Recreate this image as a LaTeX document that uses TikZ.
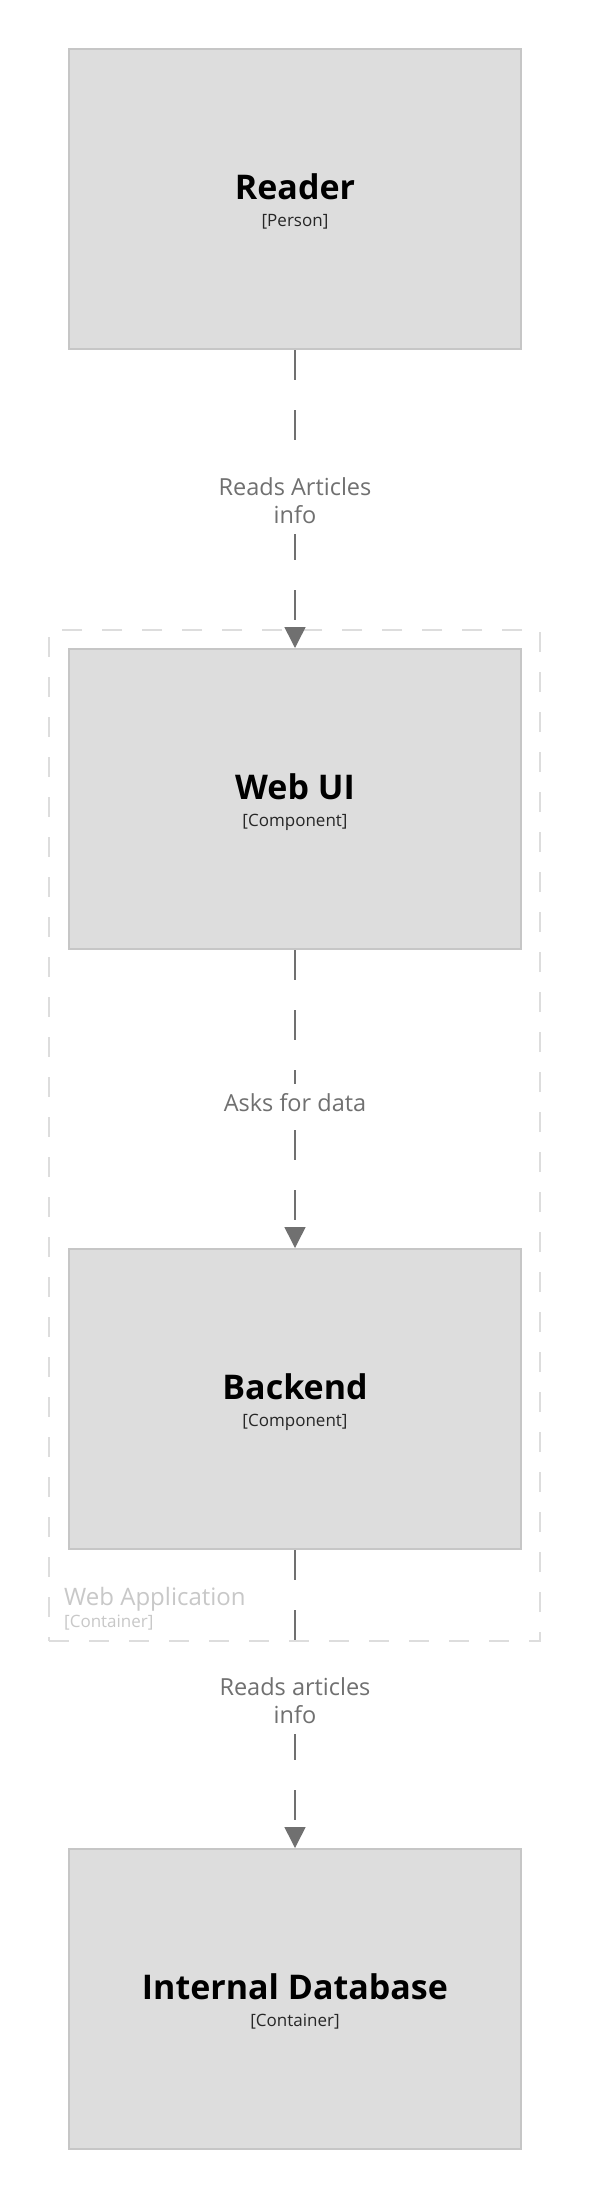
\documentclass[tikz,border=0pt]{standalone}
\usepackage{fontspec}
\setmainfont{Open Sans}
\usetikzlibrary{arrows.meta}
\definecolor{boxfill}{HTML}{DDDDDD}
\definecolor{boxline}{HTML}{C6C6C6}
\definecolor{relcol}{HTML}{707070}
\definecolor{bndline}{HTML}{DDDDDD}
\definecolor{bndtext}{HTML}{C8C8C8}
\tikzset{
  elem/.style={draw=boxline, fill=boxfill, line width=2pt, minimum width=452pt, minimum height=300pt, inner sep=0pt},
  ename/.style={anchor=base, font=\fontsize{34}{40}\selectfont\bfseries, text=black, inner sep=0pt},
  emeta/.style={anchor=base, font=\fontsize{17}{20}\selectfont, text=black!85, inner sep=0pt},
  rel/.style={draw=relcol, line width=1.5pt, dash pattern=on 30pt off 30pt, -{Triangle[width=21pt,length=21pt]}, relcol},
  rellabel/.style={fill=white, text=relcol, font=\fontsize{23.5}{28}\selectfont, align=center, inner xsep=3pt, inner ysep=10pt},
  bnd/.style={draw=bndline, line width=2pt, dash pattern=on 20pt off 20pt, minimum width=491pt, minimum height=1011pt, inner sep=0pt},
}
\begin{document}
\begin{tikzpicture}[x=1pt,y=-1pt]
\useasboundingbox[fill=white] (0,0) rectangle (590,2200);
% boundary
\node[bnd] (webapp) at (294.5,1135.5) {};
\node[anchor=base west, inner sep=0pt, text=bndtext, font=\fontsize{24}{30}\selectfont] (webappname) at (64,1605) {Web Application};
\node[anchor=base west, inner sep=0pt, text=bndtext, font=\fontsize{17}{20}\selectfont] (webappmeta) at (64,1627) {[Container]};
% elements
\node[elem] (reader) at (295,199) {};
\node[ename] (readern) at (295,199) {Reader};
\node[emeta] (readerm) at (295,226) {[Person]};
\node[elem] (webui) at (295,799) {};
\node[ename] (webuin) at (295,799) {Web UI};
\node[emeta] (webuim) at (295,826) {[Component]};
\node[elem] (backend) at (295,1399) {};
\node[ename] (backendn) at (295,1399) {Backend};
\node[emeta] (backendm) at (295,1426) {[Component]};
\node[elem] (db) at (295,1999) {};
\node[ename] (dbn) at (295,1999) {Internal Database};
\node[emeta] (dbm) at (295,2026) {[Container]};
% relationships
\draw[rel] (reader.south) -- (webui.north);
\draw[rel] (webui.south) -- (backend.north);
\draw[rel] (backend.south) -- (db.north);
\node[rellabel] (l1) at (295,501) {Reads Articles\\info};
\node[rellabel] (l2) at (295,1103) {Asks for data};
\node[rellabel] (l3) at (295,1701) {Reads articles\\info};
\end{tikzpicture}
\end{document}
